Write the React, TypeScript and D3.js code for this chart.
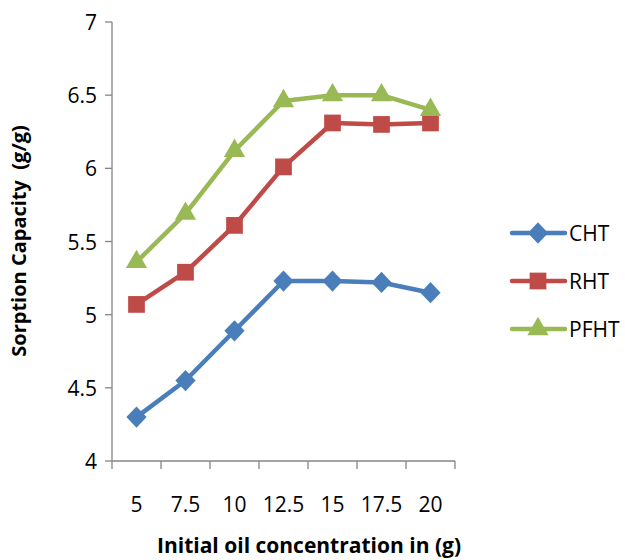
import React from "react";
import * as d3 from "d3";

// categories and series
const categories = ["5", "7.5", "10", "12.5", "15", "17.5", "20"];
const cht = [4.3, 4.55, 4.89, 5.23, 5.23, 5.22, 5.15];
const rht = [5.07, 5.29, 5.61, 6.01, 6.31, 6.3, 6.31];
const pfht = [5.36, 5.69, 6.12, 6.46, 6.5, 6.5, 6.4];
const yTicks = [4, 4.5, 5, 5.5, 6, 6.5, 7];

// Excel-style diamond: a bit wider than d3's symbolDiamond
const wideDiamond = {
  draw(ctx: any, size: number) {
    const r = Math.sqrt(size / 2);
    ctx.moveTo(0, -r * 1.05);
    ctx.lineTo(r, 0);
    ctx.lineTo(0, r * 1.05);
    ctx.lineTo(-r, 0);
    ctx.closePath();
  },
};

const series = [
  { name: "CHT", values: cht, color: "#4a7ebb", symbol: wideDiamond, size: 205 },
  { name: "RHT", values: rht, color: "#be4b48", symbol: d3.symbolSquare, size: 280 },
  { name: "PFHT", values: pfht, color: "#98b954", symbol: d3.symbolTriangle, size: 195 },
];

export default function App() {
  const width = 625;
  const height = 560;
  const left = 112;
  const right = 455;
  const top = 22;
  const bottom = 461;
  const font = "'Open Sans', sans-serif";

  const x = d3.scaleBand().domain(categories).range([left, right]).padding(0);
  const y = d3.scaleLinear().domain([4, 7]).range([bottom, top]);
  const cx = (i: number) => (x(categories[i]) as number) + x.bandwidth() / 2;

  const line = d3
    .line<number>()
    .x((_, i) => cx(i))
    .y((d) => y(d));

  const boundaries = categories.map((c) => x(c) as number).concat([right]);

  return (
    <svg
      width={width}
      height={height}
      style={{ position: "absolute", left: 0, top: 0, background: "#fff" }}
    >
      {/* y axis */}
      <line x1={left} x2={left} y1={top} y2={bottom} stroke="#868686" strokeWidth={1.3} />
      {yTicks.map((t) => (
        <g key={t}>
          <line x1={left - 7} x2={left} y1={y(t)} y2={y(t)} stroke="#868686" strokeWidth={1.3} />
          <text
            x={left - 15}
            y={y(t) + 8}
            textAnchor="end"
            fontFamily={font}
            fontSize={21}
            fill="#000"
          >
            {t}
          </text>
        </g>
      ))}
      {/* x axis */}
      <line x1={left} x2={right} y1={bottom} y2={bottom} stroke="#868686" strokeWidth={1.3} />
      {boundaries.map((b, i) => (
        <line key={i} x1={b} x2={b} y1={bottom} y2={bottom + 8} stroke="#868686" strokeWidth={1.3} />
      ))}
      {categories.map((c, i) => (
        <text
          key={c}
          x={cx(i)}
          y={512}
          textAnchor="middle"
          fontFamily={font}
          fontSize={21}
          fill="#000"
        >
          {c}
        </text>
      ))}
      {/* series */}
      {series.map((s) => (
        <g key={s.name}>
          <path d={line(s.values) || ""} fill="none" stroke={s.color} strokeWidth={4.5} strokeLinejoin="round" />
          {s.values.map((v, i) => (
            <path
              key={i}
              d={d3.symbol().type(s.symbol as any).size(s.size)() || ""}
              transform={`translate(${cx(i)},${y(v)})`}
              fill={s.color}
            />
          ))}
        </g>
      ))}
      {/* legend */}
      {series.map((s, i) => {
        const ly = 233 + i * 48;
        return (
          <g key={s.name}>
            <line x1={512} x2={565} y1={ly} y2={ly} stroke={s.color} strokeWidth={4.5} strokeLinecap="round" />
            <path
              d={d3.symbol().type(s.symbol as any).size(s.size)() || ""}
              transform={`translate(538,${ly})`}
              fill={s.color}
            />
            <text x={569} y={ly + 8} fontFamily={font} fontSize={21} fill="#000">
              {s.name}
            </text>
          </g>
        );
      })}
      {/* axis titles */}
      <text
        transform="translate(26,241) rotate(-90)"
        textAnchor="middle"
        fontFamily={font}
        fontSize={20}
        fontWeight="bold"
        fill="#000"
        style={{ whiteSpace: "pre" }}
      >
        {"Sorption Capacity  (g/g)"}
      </text>
      <text
        x={309}
        y={553}
        textAnchor="middle"
        fontFamily={font}
        fontSize={21}
        fontWeight="bold"
        fill="#000"
      >
        Initial oil concentration in (g)
      </text>
    </svg>
  );
}
